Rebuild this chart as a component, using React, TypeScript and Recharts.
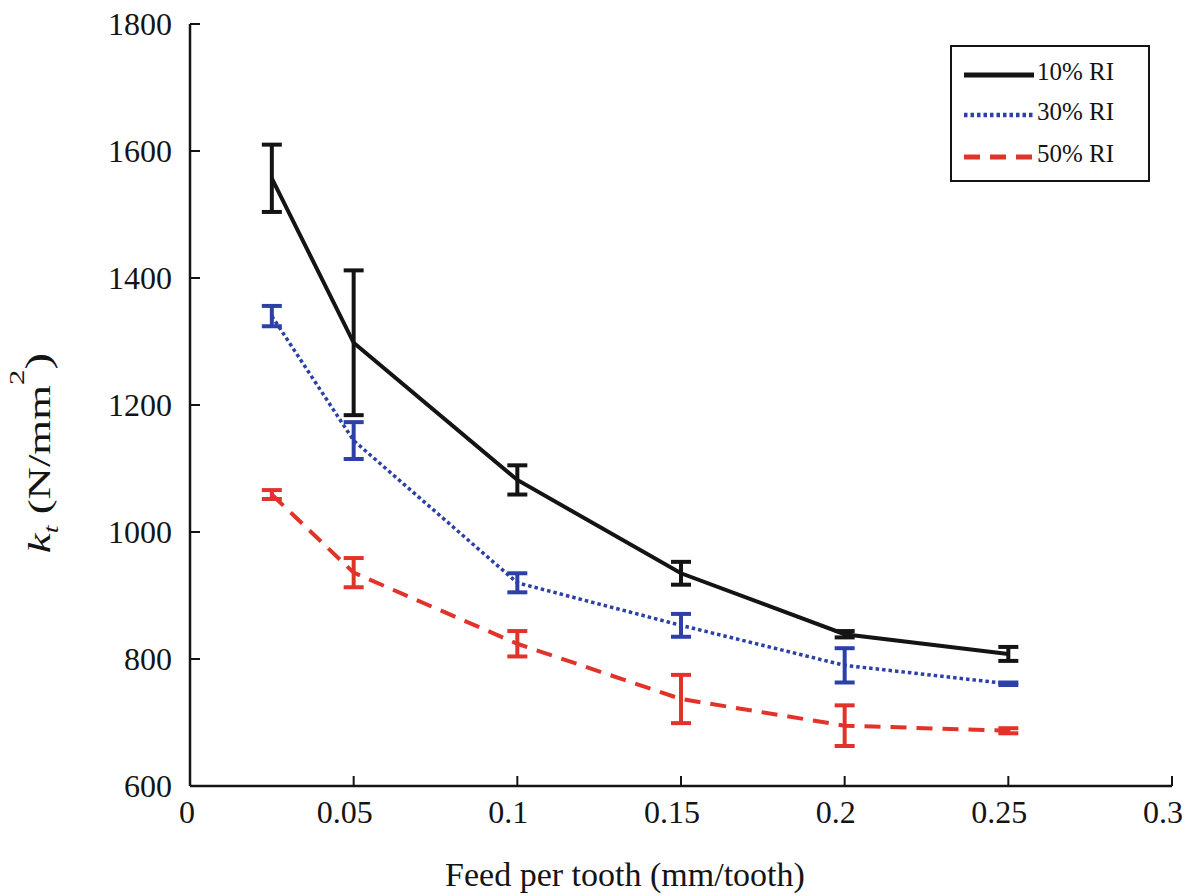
import React from 'react';
import { LineChart, Line, XAxis, YAxis, ErrorBar, Legend } from 'recharts';

// ---- data ----
const feedPerTooth = [0.025, 0.05, 0.1, 0.15, 0.2, 0.25];
const kt10 = [1557, 1298, 1082, 935, 839, 808];
const kt10Err = [53, 114, 23, 18, 5, 11];
const kt30 = [1340, 1144, 920, 853, 790, 761];
const kt30Err = [16, 29, 15, 18, 27, 2];
const kt50 = [1059, 936, 824, 737, 695, 687];
const kt50Err = [7, 23, 20, 38, 32, 4];

const seriesNames = ['10% RI', '30% RI', '50% RI'];
const xTicks = [0, 0.05, 0.1, 0.15, 0.2, 0.25, 0.3];
const yTicks = [600, 800, 1000, 1200, 1400, 1600, 1800];
const xLabel = 'Feed per tooth (mm/tooth)';

const data = feedPerTooth.map((f, i) => ({
  feed: f,
  ri10: kt10[i],
  ri10Err: kt10Err[i],
  ri30: kt30[i],
  ri30Err: kt30Err[i],
  ri50: kt50[i],
  ri50Err: kt50Err[i],
}));

// ---- styles ----
const FONT = '"Liberation Serif", "Times New Roman", Times, serif';
const INK = '#141414';
const BLUE = '#2c40a8';
const RED = '#e2332b';
const TICK_LEN = 10;

const seriesStyle = [
  { key: 'ri10', err: 'ri10Err', color: INK, dash: undefined as string | undefined, width: 4 },
  { key: 'ri30', err: 'ri30Err', color: BLUE, dash: '3.5 3', width: 3.5 },
  { key: 'ri50', err: 'ri50Err', color: RED, dash: '16 10', width: 4 },
];

const BottomTick = (props: any) => {
  const { x, y, payload } = props;
  const label = String(payload.value);
  const shift = label.length > 1 ? -9 : -3;
  return (
    <g>
      <line x1={x} y1={y} x2={x} y2={y - TICK_LEN} stroke={INK} strokeWidth={2} />
      <text x={x + shift} y={y + 37} textAnchor="middle" fontFamily={FONT} fontSize={32} fill={INK}>
        {label}
      </text>
    </g>
  );
};

const TopTick = (props: any) => {
  const { x, y } = props;
  return <line x1={x} y1={y} x2={x} y2={y + TICK_LEN} stroke={INK} strokeWidth={2} />;
};

const LeftTick = (props: any) => {
  const { x, y, payload } = props;
  return (
    <g>
      <line x1={x} y1={y} x2={x + TICK_LEN} y2={y} stroke={INK} strokeWidth={2} />
      <text x={x - 18} y={y + 11} textAnchor="end" fontFamily={FONT} fontSize={32} fill={INK}>
        {String(payload.value)}
      </text>
    </g>
  );
};

const RightTick = (props: any) => {
  const { x, y } = props;
  return <line x1={x} y1={y} x2={x - TICK_LEN} y2={y} stroke={INK} strokeWidth={2} />;
};

const YLabel = (props: any) => {
  const vb = props.viewBox || { x: 0, y: 24, width: 190, height: 762 };
  const cx = vb.x + 50;
  const cy = vb.y + vb.height / 2 + 48;
  return (
    <text
      transform={`translate(${cx},${cy}) rotate(-90) scale(1.4,1)`}
      textAnchor="middle"
      fontFamily={FONT}
      fontSize={32}
      fill={INK}
    >
      <tspan fontStyle="italic">k</tspan>
      <tspan fontStyle="italic" fontSize={20} dy={8}>t</tspan>
      <tspan dy={-8}> (N/mm</tspan>
      <tspan fontSize={22} dy={-26}>2</tspan>
      <tspan dy={26} fontSize={36}>)</tspan>
    </text>
  );
};

const XLabel = (props: any) => {
  const vb = props.viewBox || { x: 190, y: 786, width: 984, height: 110 };
  return (
    <text x={vb.x + 435} y={vb.y + 100} textAnchor="middle" fontFamily={FONT} fontSize={34} fill={INK}>
      {xLabel}
    </text>
  );
};

const LegendBox = () => (
  <div
    style={{
      width: 200,
      height: 137,
      boxSizing: 'border-box',
      border: `2px solid ${INK}`,
      background: '#fff',
      paddingTop: 5,
    }}
  >
    {seriesStyle.map((s, i) => (
      <div key={s.key} style={{ display: 'flex', alignItems: 'center', height: i === 0 ? 38 : 42 }}>
        <svg width={80} height={20} style={{ marginLeft: 10 }}>
          <line x1={2} y1={14} x2={72} y2={14} stroke={s.color} strokeWidth={s.width + 1} strokeDasharray={s.dash} />
        </svg>
        <span style={{ fontFamily: FONT, fontSize: 25, color: INK, marginLeft: -5, lineHeight: '25px' }}>
          {seriesNames[i]}
        </span>
      </div>
    ))}
  </div>
);

export default function App() {
  return (
    <div style={{ position: 'absolute', left: 0, top: 0, width: 1188, height: 896, background: '#fff' }}>
      <LineChart width={1188} height={896} data={data} margin={{ top: 24, right: 16, bottom: 0, left: 0 }}>
        <XAxis
          xAxisId="bottom"
          dataKey="feed"
          type="number"
          domain={[0, 0.3]}
          ticks={xTicks}
          interval={0}
          height={110}
          tickSize={0}
          tickMargin={0}
          tickLine={false}
          tick={<BottomTick />}
          axisLine={{ stroke: INK, strokeWidth: 2.5 }}
          label={<XLabel />}
        />
        <XAxis
          xAxisId="top"
          orientation="top"
          dataKey="feed"
          type="number"
          domain={[0, 0.3]}
          ticks={xTicks}
          interval={0}
          height={0}
          tickSize={0}
          tickMargin={0}
          tickLine={false}
          tick={<TopTick />}
          axisLine={{ stroke: INK, strokeWidth: 2.5 }}
        />
        <YAxis
          yAxisId="left"
          type="number"
          domain={[600, 1800]}
          ticks={yTicks}
          interval={0}
          width={190}
          tickSize={0}
          tickMargin={0}
          tickLine={false}
          tick={<LeftTick />}
          axisLine={{ stroke: INK, strokeWidth: 2.5 }}
          label={<YLabel />}
        />
        <YAxis
          yAxisId="right"
          orientation="right"
          type="number"
          domain={[600, 1800]}
          ticks={yTicks}
          interval={0}
          width={0}
          tickSize={0}
          tickMargin={0}
          tickLine={false}
          tick={<RightTick />}
          axisLine={{ stroke: INK, strokeWidth: 2.5 }}
        />
        <Legend
          layout="vertical"
          align="center"
          verticalAlign="middle"
          content={<LegendBox />}
          wrapperStyle={{ position: 'absolute', left: 950, top: 45, right: 'auto', bottom: 'auto', width: 200, height: 137 }}
        />
        {seriesStyle.map((s, i) => (
          <Line
            key={s.key}
            xAxisId="bottom"
            yAxisId="left"
            type="linear"
            dataKey={s.key}
            name={seriesNames[i]}
            stroke={s.color}
            strokeWidth={s.width}
            strokeDasharray={s.dash}
            dot={false}
            activeDot={false}
            isAnimationActive={false}
          >
            <ErrorBar dataKey={s.err} direction="y" width={10} strokeWidth={4} stroke={s.color} isAnimationActive={false} />
          </Line>
        ))}
      </LineChart>
    </div>
  );
}
